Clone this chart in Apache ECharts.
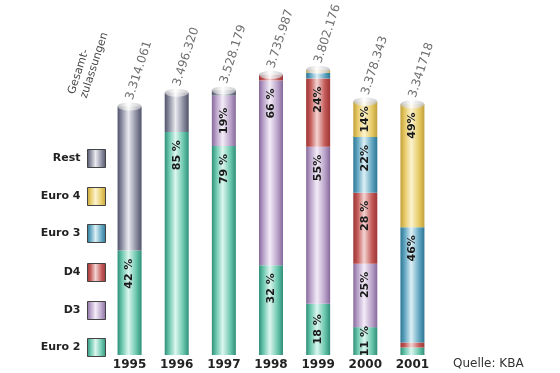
<!DOCTYPE html>
<html>
<head>
<meta charset="utf-8">
<script src="https://cdn.jsdelivr.net/npm/echarts@6/dist/echarts.min.js"></script>
<style>
  html, body { margin: 0; padding: 0; background: #fff; }
  #chart { width: 560px; height: 373px; }
</style>
</head>
<body>
<div id="chart"></div>
<script>
// Neuzulassungen nach Abgasnorm, Anteile in %
const years = ['1995', '1996', '1997', '1998', '1999', '2000', '2001']
const totals = [3.314061, 3.496320, 3.528179, 3.735987, 3.802176, 3.378343, 3.341718] // Mio.
const totalLabels = ['3.314.061', '3.496.320', '3.528.179', '3.735.987', '3.802.176', '3.378.343', '3.341718']

const euro2 = [42, 85, 79, 32, 18, 11, 3]
const d3 = [0, 0, 19, 66, 55, 25, 0]
const d4 = [0, 0, 0, 2, 24, 28, 2]
const euro3 = [0, 0, 0, 0, 2, 22, 46]
const euro4 = [0, 0, 0, 0, 1, 14, 49]
const rest = [58, 15, 2, 0, 0, 0, 0]

const euro2Lbl = ['42 %', '85 %', '79 %', '32 %', '18 %', '11 %', '']
const d3Lbl = ['', '', '19%', '66 %', '55%', '25%', '']
const d4Lbl = ['', '', '', '', '24%', '28 %', '']
const euro3Lbl = ['', '', '', '', '', '22%', '46%']
const euro4Lbl = ['', '', '', '', '', '14%', '49%']
const restLbl = ['', '', '', '', '', '', '']

const font = 'DejaVu Sans, Verdana, sans-serif'

// zylinder-look: dunkler rand, heller streifen
const cyl = (dark, main, light) => new echarts.graphic.LinearGradient(0, 0, 1, 0, [
  { offset: 0, color: dark },
  { offset: 0.18, color: main },
  { offset: 0.45, color: light },
  { offset: 0.78, color: main },
  { offset: 1, color: dark }
])

const makeSeries = (name, pct, lbls, colors) => ({
  name: name,
  type: 'bar',
  stack: 'all',
  barWidth: 24,
  // kleine segmente: beschriftung mittig
  data: pct.map((p, i) => ({
    value: +(totals[i] * p / 100).toFixed(4),
    label: p < 20 ? { position: 'inside', align: 'center' } : {}
  })),
  itemStyle: { color: cyl(colors[0], colors[1], colors[2]) },
  label: {
    show: true,
    position: 'insideTop',
    rotate: 90,
    align: 'right',
    verticalAlign: 'middle',
    distance: 8,
    color: '#1a1a1a',
    fontFamily: font,
    fontWeight: 'bold',
    fontSize: 11,
    formatter: (p) => lbls[p.dataIndex]
  }
})

const legendNames = ['Rest', 'Euro 4', 'Euro 3', 'D4', 'D3', 'Euro 2']
const legendTops = [149, 187, 224, 263, 301, 338]

const chart = echarts.init(document.getElementById('chart'))

chart.setOption({
  animation: false,
  grid: { left: 106, right: 124, top: 40, bottom: 18 },
  legend: legendNames.map((n, i) => ({
    data: [n],
    orient: 'vertical',
    right: 454,
    top: legendTops[i],
    padding: 0,
    align: 'right',
    icon: 'rect',
    itemWidth: 18,
    itemHeight: 18,
    selectedMode: false,
    itemStyle: { borderColor: '#444', borderWidth: 1 },
    textStyle: { fontFamily: font, fontWeight: 'bold', fontSize: 11, color: '#222', padding: [0, 2, 0, 0] }
  })),
  xAxis: {
    type: 'category',
    data: years,
    axisLine: { show: false },
    axisTick: { show: false },
    axisLabel: { margin: 4, color: '#222', fontFamily: font, fontWeight: 'bold', fontSize: 12 }
  },
  yAxis: {
    type: 'value',
    min: 0,
    max: 4.2,
    show: false,
    splitLine: { show: false }
  },
  series: [
    makeSeries('Euro 2', euro2, euro2Lbl, ['#2f8f77', '#69c6ad', '#dcf6ee']),
    makeSeries('D3', d3, d3Lbl, ['#86699c', '#b9a2c9', '#f3ecf7']),
    makeSeries('D4', d4, d4Lbl, ['#9c3535', '#c35a58', '#f3d4d2']),
    makeSeries('Euro 3', euro3, euro3Lbl, ['#2b7694', '#62a6c1', '#dcf0f6']),
    makeSeries('Euro 4', euro4, euro4Lbl, ['#c2a03a', '#e6c964', '#fcf3cf']),
    makeSeries('Rest', rest, restLbl, ['#50536a', '#8b8ea0', '#eaeaf0']),
    {
      // deckel + gesamtzahl
      name: 'Gesamt',
      type: 'scatter',
      symbol: 'circle',
      symbolSize: [24, 8],
      data: totals,
      itemStyle: {
        color: new echarts.graphic.LinearGradient(0, 0, 1, 0, [
          { offset: 0, color: '#b8b8bc' },
          { offset: 0.45, color: '#ffffff' },
          { offset: 1, color: '#bdbdc2' }
        ])
      },
      label: {
        show: true,
        position: 'top',
        distance: 3,
        rotate: 72,
        align: 'left',
        verticalAlign: 'middle',
        color: '#4a4a4a',
        fontFamily: font,
        fontSize: 12,
        formatter: (p) => totalLabels[p.dataIndex]
      },
      z: 5
    }
  ],
  graphic: [
    {
      type: 'text',
      x: 90,
      y: 100,
      rotation: 72 * Math.PI / 180,
      style: {
        text: 'Gesamt-\nzulassungen',
        fill: '#4a4a4a',
        font: '11px ' + font,
        lineHeight: 13,
        align: 'left',
        verticalAlign: 'bottom'
      }
    },
    {
      type: 'text',
      x: 453,
      y: 364,
      style: {
        text: 'Quelle: KBA',
        fill: '#333',
        font: '12px ' + font,
        align: 'left',
        verticalAlign: 'middle'
      }
    }
  ]
})
</script>
</body>
</html>
